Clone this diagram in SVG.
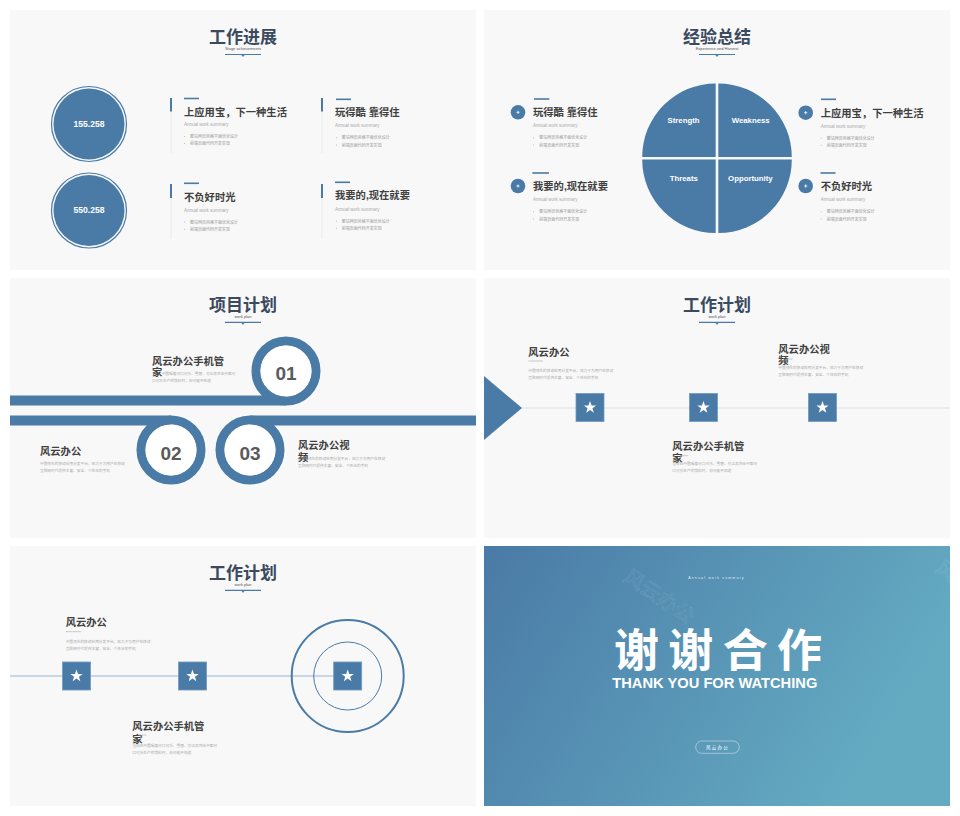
<svg xmlns="http://www.w3.org/2000/svg" width="960" height="816" viewBox="0 0 960 816">
<style>
text{font-family:"Liberation Sans","Noto Sans CJK SC",sans-serif}
.pn{fill:#f8f8f8}
.tt{font-size:17px;font-weight:bold;fill:#3b4a5f;text-anchor:middle}
.ts{font-size:4px;fill:#555;text-anchor:middle}
.ul{stroke:#4a7ba7;stroke-width:1.2}
.h{font-size:10.3px;font-weight:bold;fill:#404040}
.cap{font-size:4.5px;fill:#aaa}
.b{font-size:4px;fill:#999}
.d{font-size:3.7px;fill:#aaa}
.blue{fill:#4a7ba7}
.bl{stroke:#4a7ba7;stroke-width:1.6}
.gl{stroke:#e6e6e6;stroke-width:0.8}
.sq{fill:#4a7ba7;stroke:#6f9bc1;stroke-width:0.8}
.num{font-size:19px;font-weight:bold;fill:#5a5a5a;text-anchor:middle}
.ring{fill:none;stroke:#4a7ba7;stroke-width:9}
.q{font-size:7.8px;font-weight:bold;fill:#fff;text-anchor:middle}
.wm{font-size:20px;fill:none;stroke:#fff;stroke-opacity:0.2;stroke-width:0.4}
</style>
<defs>
<g id="star"><rect class="sq" x="-14" y="-14" width="28" height="28"/><polygon fill="#fff" points="0,-6.5 1.53,-2.1 6.18,-2.01 2.47,0.8 3.82,5.26 0,2.6 -3.82,5.26 -2.47,0.8 -6.18,-2.01 -1.53,-2.1"/></g>
<g id="plus"><circle r="7.3" fill="#4a7ba7"/><path d="M-1.6,0H1.6M0,-1.6V1.6" stroke="#fff" stroke-width="0.8"/></g>
<g id="tri"><polygon points="-1.6,0.4 1.6,0.4 0,2.6" fill="#4a7ba7"/></g>
<linearGradient id="bg6" x1="0" y1="0" x2="1" y2="0.35">
<stop offset="0" stop-color="#4a7aa6"/><stop offset="1" stop-color="#64abc2"/></linearGradient>
</defs>
<rect width="960" height="816" fill="#fff"/>

<!-- Slide 1 -->
<g id="slide1">
<rect class="pn" x="10" y="10" width="466" height="260"/>
<g id="s1-title">
<text class="tt" x="243" y="42.5">工作进展</text>
<text class="ts" x="243" y="50">Stage achievements</text>
<line class="ul" x1="225" y1="54.5" x2="261" y2="54.5"/><use href="#tri" x="243" y="54.5"/>
</g>
<g id="s1-c1"><circle cx="89" cy="124" r="37.5" fill="none" stroke="#4a7ba7" stroke-width="1.2"/><circle cx="89" cy="124" r="35.5" class="blue"/>
<text x="89" y="126.6" font-size="8.6" font-weight="bold" fill="#fff" text-anchor="middle">155.258</text></g>
<g id="s1-c2"><circle cx="89" cy="210.5" r="37.5" fill="none" stroke="#4a7ba7" stroke-width="1.2"/><circle cx="89" cy="210.5" r="35.5" class="blue"/>
<text x="89" y="212.6" font-size="8.6" font-weight="bold" fill="#fff" text-anchor="middle">550.258</text></g>
<g id="s1-b1">
<line class="gl" x1="171" y1="98" x2="171" y2="153"/><line x1="171" y1="98" x2="171" y2="111.5" stroke="#4a7ba7" stroke-width="2"/>
<line class="bl" x1="184" y1="98.5" x2="199" y2="98.5"/>
<text class="h" x="184" y="115.6">上应用宝，下一种生活</text>
<text class="cap" x="184" y="125.8">Annual work summary</text>
<circle cx="184.5" cy="136.5" r="0.5" fill="#aaa"/><text class="b" x="190" y="138.2">整站网页风格平面优化设计</text>
<circle cx="184.5" cy="143.5" r="0.5" fill="#aaa"/><text class="b" x="190" y="145.2">前端页面代码开发实现</text>
</g>
<g id="s1-b2">
<line class="gl" x1="322" y1="98" x2="322" y2="153"/><line x1="322" y1="98" x2="322" y2="111.5" stroke="#4a7ba7" stroke-width="2"/>
<line class="bl" x1="336" y1="99.3" x2="351" y2="99.3"/>
<text class="h" x="335" y="116.2">玩得酷 靠得住</text>
<text class="cap" x="335" y="127.2">Annual work summary</text>
<circle cx="336.5" cy="137.7" r="0.5" fill="#aaa"/><text class="b" x="341.7" y="139.2">整站网页风格平面优化设计</text>
<circle cx="336.5" cy="145" r="0.5" fill="#aaa"/><text class="b" x="341.7" y="146.5">前端页面代码开发实现</text>
</g>
<g id="s1-b3">
<line class="gl" x1="171" y1="184" x2="171" y2="239"/><line x1="171" y1="184" x2="171" y2="198" stroke="#4a7ba7" stroke-width="2"/>
<line class="bl" x1="184" y1="183.3" x2="199" y2="183.3"/>
<text class="h" x="184" y="200.6">不负好时光</text>
<text class="cap" x="184" y="211.5">Annual work summary</text>
<circle cx="184.5" cy="222" r="0.5" fill="#aaa"/><text class="b" x="190" y="223.5">整站网页风格平面优化设计</text>
<circle cx="184.5" cy="229.3" r="0.5" fill="#aaa"/><text class="b" x="190" y="230.8">前端页面代码开发实现</text>
</g>
<g id="s1-b4">
<line class="gl" x1="322" y1="184" x2="322" y2="239"/><line x1="322" y1="184" x2="322" y2="198" stroke="#4a7ba7" stroke-width="2"/>
<line class="bl" x1="335" y1="182.3" x2="350" y2="182.3"/>
<text class="h" x="335" y="199.2">我要的,现在就要</text>
<text class="cap" x="335" y="210.5">Annual work summary</text>
<circle cx="336.5" cy="221" r="0.5" fill="#aaa"/><text class="b" x="341.7" y="222.5">整站网页风格平面优化设计</text>
<circle cx="336.5" cy="228.3" r="0.5" fill="#aaa"/><text class="b" x="341.7" y="229.8">前端页面代码开发实现</text>
</g>
</g>

<!-- Slide 2 -->
<g id="slide2">
<rect class="pn" x="484" y="10" width="466" height="260"/>
<g id="s2-title">
<text class="tt" x="717" y="42.5">经验总结</text>
<text class="ts" x="717" y="50">Experience and Harvest</text>
<line class="ul" x1="699" y1="54.5" x2="735" y2="54.5"/><use href="#tri" x="717" y="54.5"/>
</g>
<g id="s2-swot">
<path class="blue" d="M715.7,157 L642.2,157 A73.5,73.5 0 0 1 715.7,83.5 Z"/>
<path class="blue" d="M718.3,157 L718.3,83.5 A73.5,73.5 0 0 1 791.8,157 Z"/>
<path class="blue" d="M715.7,159.6 L715.7,233.1 A73.5,73.5 0 0 1 642.2,159.6 Z"/>
<path class="blue" d="M718.3,159.6 L791.8,159.6 A73.5,73.5 0 0 1 718.3,233.1 Z"/>
<text class="q" x="683.5" y="123.2">Strength</text>
<text class="q" x="750.7" y="123.2">Weakness</text>
<text class="q" x="683.8" y="181.2">Threats</text>
<text class="q" x="750.4" y="181.2">Opportunity</text>
</g>
<g id="s2-l1">
<use href="#plus" x="518" y="112.3"/>
<line class="bl" x1="534" y1="99" x2="549.3" y2="99"/>
<text class="h" x="533" y="116.2">玩得酷 靠得住</text>
<text class="cap" x="533" y="127.2">Annual work summary</text>
<circle cx="533.5" cy="137.7" r="0.5" fill="#aaa"/><text class="b" x="539.3" y="139.2">整站网页风格平面优化设计</text>
<circle cx="533.5" cy="145" r="0.5" fill="#aaa"/><text class="b" x="539.3" y="146.5">前端页面代码开发实现</text>
</g>
<g id="s2-l2">
<use href="#plus" x="518" y="186"/>
<line class="bl" x1="532.3" y1="173" x2="549" y2="173"/>
<text class="h" x="533" y="189.9">我要的,现在就要</text>
<text class="cap" x="533" y="200.8">Annual work summary</text>
<circle cx="533.5" cy="211.7" r="0.5" fill="#aaa"/><text class="b" x="539.3" y="213.2">整站网页风格平面优化设计</text>
<circle cx="533.5" cy="219" r="0.5" fill="#aaa"/><text class="b" x="539.3" y="220.5">前端页面代码开发实现</text>
</g>
<g id="s2-r1">
<use href="#plus" x="805.7" y="112.7"/>
<line class="bl" x1="821" y1="99.3" x2="836" y2="99.3"/>
<text class="h" x="820.7" y="116.6">上应用宝，下一种生活</text>
<text class="cap" x="820.7" y="127.5">Annual work summary</text>
<circle cx="821.2" cy="138" r="0.5" fill="#aaa"/><text class="b" x="826.7" y="139.5">整站网页风格平面优化设计</text>
<circle cx="821.2" cy="145.3" r="0.5" fill="#aaa"/><text class="b" x="826.7" y="146.8">前端页面代码开发实现</text>
</g>
<g id="s2-r2">
<use href="#plus" x="805.7" y="186"/>
<line class="bl" x1="820.5" y1="173" x2="835.5" y2="173"/>
<text class="h" x="820.7" y="189.9">不负好时光</text>
<text class="cap" x="820.7" y="200.8">Annual work summary</text>
<circle cx="821.2" cy="211.7" r="0.5" fill="#aaa"/><text class="b" x="826.7" y="213.2">整站网页风格平面优化设计</text>
<circle cx="821.2" cy="219" r="0.5" fill="#aaa"/><text class="b" x="826.7" y="220.5">前端页面代码开发实现</text>
</g>
</g>

<!-- Slide 3 -->
<g id="slide3">
<rect class="pn" x="10" y="278" width="466" height="260"/>
<g id="s3-title">
<text class="tt" x="243" y="310.5">项目计划</text>
<text class="ts" x="243" y="318">work plan</text>
<line class="ul" x1="225" y1="322.3" x2="261" y2="322.3"/><use href="#tri" x="243" y="322.3"/>
</g>
<g id="s3-bands">
<rect class="blue" x="10" y="395.5" width="276" height="10"/>
<rect class="blue" x="10" y="415.5" width="161" height="10"/>
<rect class="blue" x="250" y="415.5" width="226" height="10"/>
</g>
<g id="s3-n01"><circle class="ring" cx="286" cy="371" r="30"/><circle cx="286" cy="371" r="25.5" fill="#fff"/><text class="num" x="286" y="379.8">01</text></g>
<g id="s3-n02"><circle class="ring" cx="171" cy="450" r="30"/><circle cx="171" cy="450" r="25.5" fill="#fff"/><text class="num" x="171" y="459.8">02</text></g>
<g id="s3-n03"><circle class="ring" cx="250" cy="450" r="30"/><circle cx="250" cy="450" r="25.5" fill="#fff"/><text class="num" x="250" y="459.8">03</text></g>
<g id="s3-t1">
<text class="h" font-size="9.3" x="152" y="364.5">风云办公手机管</text>
<text class="h" font-size="9.3" x="152" y="375.5">家</text>
<text class="d" x="161.7" y="375.3">中国喝着可口可乐、雪碧、芬达及世由中都可</text>
<text class="d" x="152" y="382.3">口可乐生产的饮料时，你可能不知道</text>
</g>
<g id="s3-t2">
<text class="h" font-size="9.3" x="40" y="454.5">风云办公</text>
<text class="d" x="40" y="465.3">中国领先的移动应用分发平台，致力于为用户在移动</text>
<text class="d" x="40" y="472">互联网时代提供丰富、安全、个性化的手机</text>
</g>
<g id="s3-t3">
<text class="h" font-size="9.3" x="298" y="449.2">风云办公视</text>
<text class="h" font-size="9.3" x="298" y="460.5">频</text>
<text class="d" x="307.7" y="460.3">领先的移动应用分发平台，致力于为用户在移动</text>
<text class="d" x="298" y="466.6">互联网时代提供丰富、安全、个性化的手机</text>
</g>
</g>

<!-- Slide 4 -->
<g id="slide4">
<rect class="pn" x="484" y="278" width="466" height="260"/>
<g id="s4-title">
<text class="tt" x="717" y="310.5">工作计划</text>
<text class="ts" x="717" y="318">work plan</text>
<line class="ul" x1="699" y1="322.3" x2="735" y2="322.3"/><use href="#tri" x="717" y="322.3"/>
</g>
<g id="s4-line"><line x1="522" y1="408" x2="950" y2="408" stroke="#e8e8e8" stroke-width="1.5"/></g>
<g id="s4-arrow"><polygon class="blue" points="484,376 522,408 484,440"/></g>
<g id="s4-m1"><use href="#star" x="590" y="407.5"/></g>
<g id="s4-m2"><use href="#star" x="703.5" y="407.5"/></g>
<g id="s4-m3"><use href="#star" x="822.5" y="407.5"/></g>
<g id="s4-t1">
<text class="h" font-size="9.2" x="528.3" y="355.5">风云办公</text>
<line x1="528.3" y1="361" x2="543" y2="361" stroke="#bbb" stroke-width="0.8"/>
<text class="d" x="528.3" y="371.6">中国领先的移动应用分发平台，致力于为用户在移动</text>
<text class="d" x="528.3" y="378.6">互联网时代提供丰富、安全、个性化的手机</text>
</g>
<g id="s4-t2">
<text class="h" font-size="9.2" x="672.3" y="449.8">风云办公手机管</text>
<text class="h" font-size="9.2" x="672.3" y="461.5">家</text>
<line x1="681" y1="455.7" x2="688" y2="455.7" stroke="#bbb" stroke-width="0.8"/>
<text class="d" x="672.3" y="465.3">当你在中国喝着可口可乐、雪碧、芬达及世由中都可</text>
<text class="d" x="672.3" y="472">口可乐生产的饮料时，你可能不知道</text>
</g>
<g id="s4-t3">
<text class="h" font-size="9.2" x="778.3" y="353.2">风云办公视</text>
<text class="h" font-size="9.2" x="778.3" y="363.8">频</text>
<line x1="786.5" y1="359" x2="792.5" y2="359" stroke="#bbb" stroke-width="0.8"/>
<text class="d" x="778.3" y="369.3">中国领先的移动应用分发平台，致力于为用户在移动</text>
<text class="d" x="778.3" y="376">互联网时代提供丰富、安全、个性化的手机</text>
</g>
</g>

<!-- Slide 5 -->
<g id="slide5">
<rect class="pn" x="10" y="546" width="466" height="260"/>
<g id="s5-title">
<text class="tt" x="243" y="578.5">工作计划</text>
<text class="ts" x="243" y="586">work plan</text>
<line class="ul" x1="225" y1="590.3" x2="261" y2="590.3"/><use href="#tri" x="243" y="590.3"/>
</g>
<g id="s5-line"><line x1="10" y1="676" x2="334" y2="676" stroke="#b7cce0" stroke-width="1.5"/></g>
<g id="s5-target">
<circle cx="347.7" cy="676" r="56" fill="none" stroke="#4a7ba7" stroke-width="2"/>
<circle cx="347.7" cy="676" r="34" fill="none" stroke="#4a7ba7" stroke-width="1"/>
</g>
<g id="s5-m1"><use href="#star" x="76.5" y="676"/></g>
<g id="s5-m2"><use href="#star" x="192.5" y="676"/></g>
<g id="s5-m3"><use href="#star" x="347.7" y="676"/></g>
<g id="s5-t1">
<text class="h" font-size="11" x="65.7" y="626.2">风云办公</text>
<line x1="66" y1="631.7" x2="81" y2="631.7" stroke="#bbb" stroke-width="0.8"/>
<text class="d" x="65.7" y="643.3">中国领先的移动应用分发平台，致力于为用户在移动</text>
<text class="d" x="65.7" y="650">互联网时代提供丰富、安全、个性化的手机</text>
</g>
<g id="s5-t2">
<text class="h" font-size="11" x="132.3" y="730.2">风云办公手机管</text>
<text class="h" font-size="11" x="132.3" y="742.9">家</text>
<line x1="138.5" y1="735" x2="146.5" y2="735" stroke="#bbb" stroke-width="0.8"/>
<text class="d" x="132.3" y="747.3">当你在中国喝着可口可乐、雪碧、芬达及世由中都可</text>
<text class="d" x="132.3" y="754">口可乐生产的饮料时，你可能不知道</text>
</g>
</g>

<!-- Slide 6 -->
<g id="slide6">
<rect x="484" y="546" width="466" height="260" fill="url(#bg6)"/>
<text class="wm" transform="translate(622,580) rotate(34)">风云办公</text>
<text class="wm" font-size="14" transform="translate(934,571) rotate(34)">风</text>
<text x="716.5" y="579" font-size="3.6" fill="#fff" fill-opacity="0.85" text-anchor="middle" letter-spacing="1.1">Annual work summary</text>
<text x="614" y="666.5" font-size="45" font-weight="bold" fill="#fff" textLength="208" lengthAdjust="spacing">谢谢合作</text>
<text x="612.3" y="687.7" font-size="15" font-weight="bold" fill="#fff" textLength="205" lengthAdjust="spacingAndGlyphs">THANK YOU FOR WATCHING</text>
<g id="s6-pill">
<rect x="695.7" y="741" width="43.6" height="12.3" rx="6.15" fill="none" stroke="#fff" stroke-opacity="0.7" stroke-width="0.6"/>
<text x="717.5" y="748.8" font-size="4.5" fill="#fff" text-anchor="middle" letter-spacing="1.2">风云办公</text>
</g>
</g>
</svg>
